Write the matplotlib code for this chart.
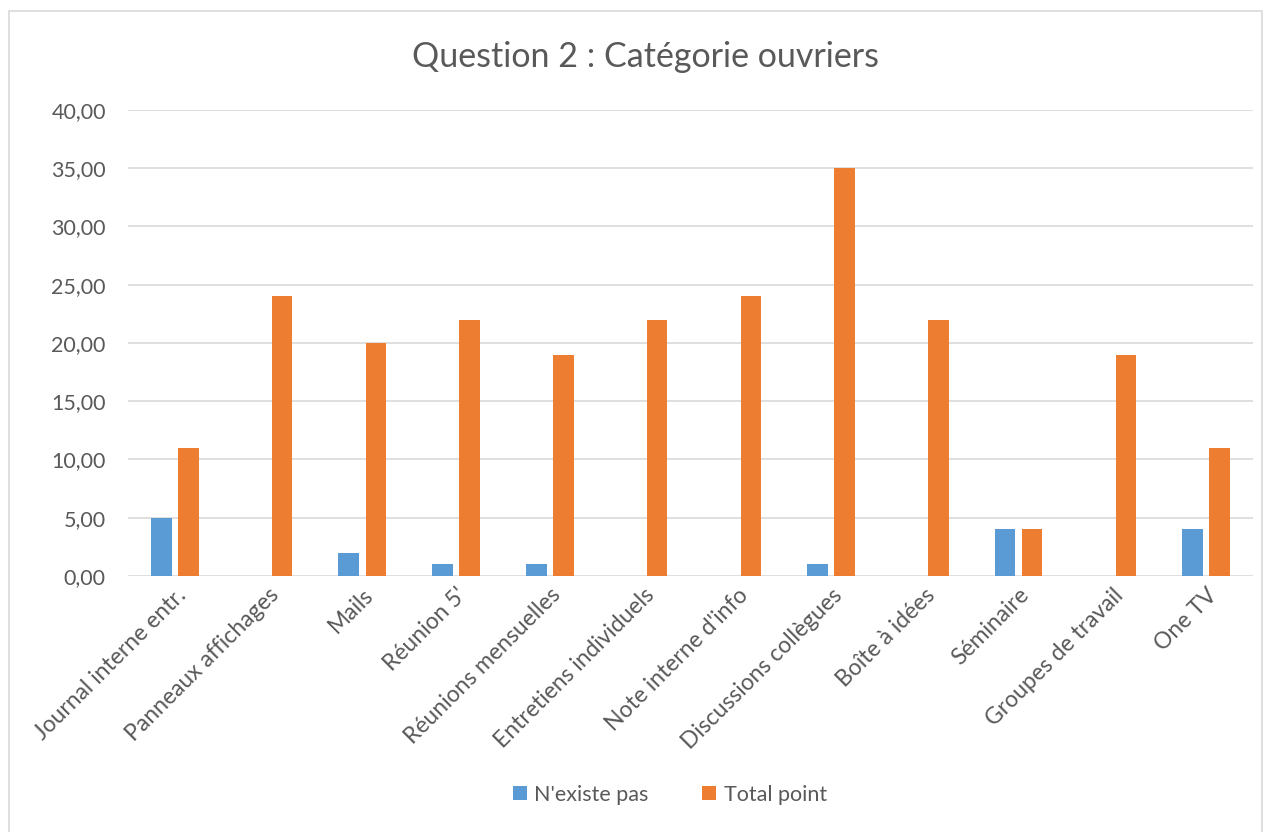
import matplotlib
matplotlib.use("Agg")
import matplotlib.pyplot as plt
import numpy as np
from matplotlib.patches import Rectangle

categories = ["Journal interne entr.", "Panneaux affichages", "Mails", "Réunion 5'",
              "Réunions mensuelles", "Entretiens individuels", "Note interne d'info",
              "Discussions collègues", "Boîte à idées", "Séminaire",
              "Groupes de travail", "One TV"]
n_existe_pas = [5, 0, 2, 1, 1, 0, 0, 1, 0, 4, 0, 4]
total_point = [11, 24, 20, 22, 19, 22, 24, 35, 22, 4, 19, 11]
yticks = [0, 5, 10, 15, 20, 25, 30, 35, 40]

blue = "#5B9BD5"
orange = "#ED7D31"
txt = "#595959"
font = "Lato"

fig = plt.figure(figsize=(12.71, 8.32), dpi=100)
ax = fig.add_axes([0.1007, 0.3077, 0.885, 0.5601])

x = np.arange(len(categories))
w = 0.22
off = 0.145
ax.bar(x - off, n_existe_pas, w, color=blue, label="N'existe pas", zorder=3)
ax.bar(x + off, total_point, w, color=orange, label="Total point", zorder=3)

ax.set_xlim(-0.5, len(categories) - 0.5)
ax.set_ylim(0, 40)
ax.set_yticks(yticks)
ax.set_yticklabels([f"{v:.2f}".replace(".", ",") for v in yticks],
                   fontsize=15.5, color=txt, family=font)
ax.yaxis.grid(True, color="#D9D9D9", linewidth=1.2, zorder=0)
ax.set_axisbelow(True)
for s in ax.spines.values():
    s.set_visible(False)
ax.tick_params(axis="y", length=0, pad=16)
ax.tick_params(axis="x", length=0, pad=6)
ax.set_xticks(x)
ax.set_xticklabels(categories, rotation=45, ha="right", rotation_mode="anchor",
                   fontsize=16.5, color=txt, family=font)

fig.text(0.508, 0.932, "Question 2 : Catégorie ouvriers", ha="center", va="center",
         fontsize=24.5, color=txt, family=font)

leg = fig.legend(loc="center", bbox_to_anchor=(0.527, 0.045), ncol=2, frameon=False,
                 prop={"family": font, "size": 15.5}, handlelength=0.65, handleheight=0.65,
                 handletextpad=0.35, columnspacing=2.5)
for t in leg.get_texts():
    t.set_color(txt)

fig.patches.append(Rectangle((9 / 1271, -0.01), (1262 - 9) / 1271, 1 - 11 / 832 + 0.01,
                             transform=fig.transFigure, fill=False,
                             edgecolor="#D9D9D9", linewidth=1.2))

fig.savefig("out.png", dpi=100)
